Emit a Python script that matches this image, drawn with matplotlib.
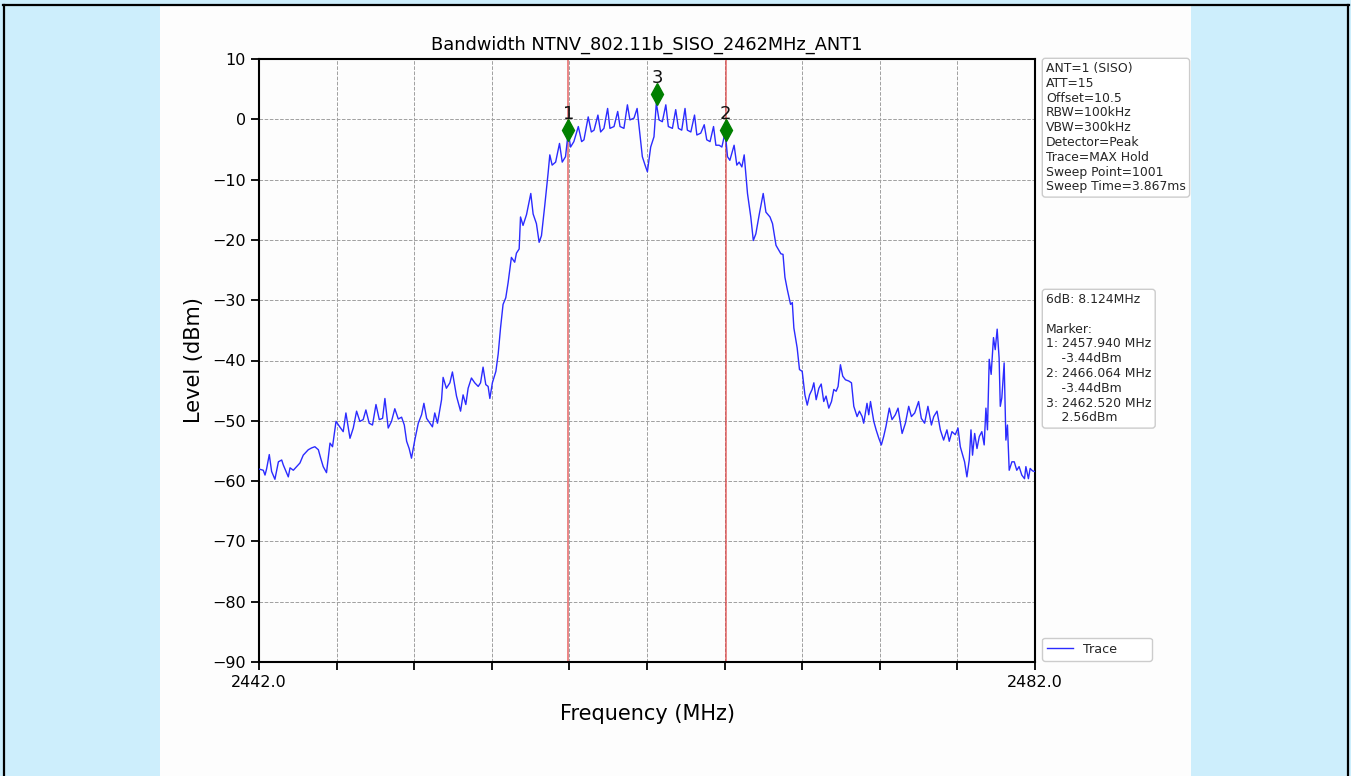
import matplotlib
matplotlib.use("Agg")
import matplotlib.pyplot as plt
from matplotlib.patches import Rectangle
from matplotlib.lines import Line2D

# ---------------- data ----------------
freq_mhz = [
    2442.00, 2442.22, 2442.31, 2442.39, 2442.53, 2442.65, 2442.82, 2443.00, 2443.17, 2443.25,
    2443.51, 2443.60, 2443.77, 2443.94, 2444.11, 2444.28, 2444.54, 2444.71, 2444.88, 2445.06,
    2445.18, 2445.31, 2445.48, 2445.66, 2445.79, 2445.97, 2446.14, 2446.34, 2446.48, 2446.69,
    2446.86, 2447.03, 2447.20, 2447.37, 2447.51, 2447.68, 2447.85, 2448.03, 2448.20, 2448.37,
    2448.49, 2448.66, 2448.83, 2449.00, 2449.18, 2449.35, 2449.49, 2449.61, 2449.74, 2449.86,
    2450.03, 2450.21, 2450.38, 2450.50, 2450.64, 2450.81, 2450.94, 2451.06, 2451.20, 2451.41,
    2451.49, 2451.66, 2451.84, 2451.97, 2452.18, 2452.39, 2452.52, 2452.66, 2452.78, 2452.95,
    2453.12, 2453.30, 2453.42, 2453.55, 2453.69, 2453.81, 2453.90, 2454.03, 2454.21, 2454.33,
    2454.45, 2454.58, 2454.72, 2454.84, 2455.01, 2455.18, 2455.27, 2455.41, 2455.48, 2455.61,
    2455.79, 2456.01, 2456.13, 2456.30, 2456.44, 2456.56, 2456.73, 2456.90, 2456.99,
    2457.11, 2457.29, 2457.49, 2457.63, 2457.80, 2457.94, 2458.06, 2458.23, 2458.46, 2458.63,
    2458.75, 2458.97, 2459.13, 2459.27, 2459.47, 2459.61, 2459.78, 2459.97, 2460.09, 2460.30,
    2460.49, 2460.61, 2460.81, 2460.99, 2461.12, 2461.33, 2461.49, 2461.59, 2461.76, 2461.90,
    2462.02, 2462.19, 2462.36, 2462.48, 2462.62, 2462.79, 2462.97, 2463.10, 2463.31, 2463.48,
    2463.62, 2463.79, 2463.96, 2464.08, 2464.26, 2464.45, 2464.57, 2464.77, 2464.95, 2465.08,
    2465.25, 2465.43, 2465.55, 2465.72, 2465.86, 2466.03, 2466.15, 2466.27, 2466.49, 2466.63,
    2466.75, 2466.89, 2467.01, 2467.18, 2467.35, 2467.48, 2467.61, 2467.79, 2467.99, 2468.13,
    2468.34, 2468.47, 2468.65, 2468.90,
    2469.01, 2469.11, 2469.23, 2469.40, 2469.49, 2469.57, 2469.74, 2469.86, 2470.00, 2470.14,
    2470.26, 2470.38, 2470.51, 2470.60, 2470.72, 2470.86, 2470.98, 2471.11, 2471.23, 2471.37,
    2471.51, 2471.63, 2471.75, 2471.85, 2471.97, 2472.09, 2472.23, 2472.40, 2472.54, 2472.66,
    2472.83, 2472.95, 2473.09, 2473.17, 2473.34, 2473.43, 2473.52, 2473.69, 2473.81, 2473.95,
    2474.08, 2474.20, 2474.32, 2474.49, 2474.63, 2474.80, 2474.94, 2475.15, 2475.32, 2475.49,
    2475.63, 2475.80, 2476.00, 2476.14, 2476.31, 2476.48, 2476.66, 2476.78, 2476.95, 2477.12,
    2477.29, 2477.46, 2477.58, 2477.72, 2477.89, 2478.03, 2478.15, 2478.27, 2478.37, 2478.49,
    2478.61, 2478.70, 2478.78, 2478.89, 2479.01, 2479.13, 2479.26, 2479.38, 2479.47, 2479.55,
    2479.64, 2479.74, 2479.86, 2479.95, 2480.05, 2480.15, 2480.21, 2480.29, 2480.41, 2480.50,
    2480.58, 2480.67, 2480.81, 2480.93, 2481.06, 2481.18, 2481.32, 2481.46, 2481.53, 2481.66,
    2481.75, 2481.87, 2481.97, 2482.00,
]
level_dbm = [
    -58.0, -58.2, -59.0, -58.0, -55.6, -58.4, -59.7, -56.8, -56.5, -57.3,
    -59.3, -57.8, -58.2, -57.6, -57.0, -55.7, -54.8, -54.5, -54.3, -54.8,
    -56.2, -57.6, -58.6, -53.7, -54.3, -50.1, -50.9, -51.8, -48.7, -52.9,
    -51.2, -48.4, -50.1, -49.8, -48.2, -50.4, -50.7, -47.3, -49.8, -49.6,
    -46.3, -51.2, -50.1, -48.0, -49.7, -49.4, -50.7, -53.4, -54.6, -56.2,
    -53.2, -50.4, -49.0, -47.1, -49.6, -50.4, -51.0, -48.7, -50.4, -46.5,
    -42.8, -44.6, -43.7, -41.9, -45.9, -48.4, -45.7, -47.3, -44.6, -42.9,
    -43.7, -44.3, -43.7, -41.1, -44.0, -44.3, -46.3, -43.7, -41.8, -38.9,
    -34.6, -30.7, -29.6, -27.1, -22.9, -23.7, -22.2, -21.5, -16.2, -17.6,
    -15.8, -12.3, -15.7, -17.3, -20.4, -19.3, -14.3, -9.0, -5.9,
    -7.6, -7.1, -4.0, -7.1, -6.2, -2.1, -4.6, -3.7, -1.2, -3.7,
    -3.4, 0.4, -2.1, -1.8, 0.7, -2.1, -1.5, 1.8, -1.5, -1.2,
    1.3, -1.2, -1.5, 2.4, -0.1, 0.2, 1.8, -1.2, -6.2, -7.6,
    -8.7, -4.6, -2.9, 2.7, -0.1, -0.4, 2.4, -1.2, -1.5, 1.6,
    -1.5, -1.8, 1.8, -1.8, -2.1, 0.7, -2.6, -2.3, -0.9, -3.4,
    -3.7, -1.2, -4.3, -4.3, -4.6, -2.1, -6.2, -6.8, -4.3, -7.6,
    -7.1, -7.9, -5.9, -12.3, -16.2, -20.1, -19.0, -15.7, -12.3, -15.4,
    -16.2, -17.3, -20.9, -22.3,
    -22.4, -26.2, -28.2, -30.7, -30.4, -34.6, -37.9, -41.5, -41.8, -45.7,
    -47.4, -45.7, -44.8, -43.7, -46.5, -44.6, -43.9, -46.8, -45.9, -47.9,
    -46.8, -44.8, -45.1, -44.3, -40.7, -42.6, -43.2, -43.4, -43.7, -47.6,
    -49.3, -48.4, -49.3, -50.4, -47.1, -49.0, -46.8, -50.1, -51.5, -52.9,
    -54.0, -52.6, -50.9, -47.9, -49.8, -49.0, -47.9, -52.1, -50.4, -47.6,
    -49.3, -48.7, -46.8, -49.6, -50.4, -47.6, -50.7, -49.3, -48.4, -51.5,
    -53.2, -51.5, -53.4, -51.8, -52.3, -51.2, -54.3, -55.7, -56.8, -59.3,
    -56.5, -51.5, -55.7, -52.1, -54.6, -52.6, -51.8, -54.0, -47.9, -51.5,
    -39.8, -42.3, -36.2, -38.2, -34.8, -39.6, -47.6, -46.2, -40.4, -53.2,
    -50.7, -58.2, -56.8, -56.8, -58.2, -57.6, -59.0, -59.6, -57.6, -59.6,
    -57.9, -58.3, -58.4, -58.4,
]

marker_ids = ["1", "2", "3"]
marker_freq = [2457.940, 2466.064, 2462.520]
marker_level_text = [-3.44, -3.44, 2.56]
marker_plot_level = [-1.8, -1.8, 4.2]
bw_lines = [2457.940, 2466.064]
bw_6db = 8.124

x_ticks = [2442, 2446, 2450, 2454, 2458, 2462, 2466, 2470, 2474, 2478, 2482]
x_tick_labels = ["2442.0", "", "", "", "", "", "", "", "", "", "2482.0"]
y_ticks = [10, 0, -10, -20, -30, -40, -50, -60, -70, -80, -90]

settings_lines = ["ANT=1 (SISO)", "ATT=15", "Offset=10.5", "RBW=100kHz", "VBW=300kHz",
                  "Detector=Peak", "Trace=MAX Hold", "Sweep Point=1001", "Sweep Time=3.867ms"]
title_text = "Bandwidth NTNV_802.11b_SISO_2462MHz_ANT1"

# ---------------- figure ----------------
W, H = 1351, 776
fig = plt.figure(figsize=(W / 100, H / 100), dpi=100, facecolor="#cdeefc")

def fx(px):
    return px / W

def fy(py):
    return 1 - py / H

# white panel
fig.patches.append(Rectangle((fx(160), 0), fx(1191) - fx(160), fy(5), transform=fig.transFigure,
                             facecolor="#fdfdfd", edgecolor="none", zorder=-5))
# black border
for xs, ys in [([fx(3), fx(1349)], [fy(4.5), fy(4.5)]),
               ([fx(3.5), fx(3.5)], [fy(4.5), 0]),
               ([fx(1348), fx(1348)], [fy(4.5), 0])]:
    fig.add_artist(Line2D(xs, ys, transform=fig.transFigure, color="black", lw=1.6, zorder=5))

ax = fig.add_axes([fx(259), fy(662), fx(1035) - fx(259), fy(59) - fy(662)])
ax.set_zorder(1)
ax.set_facecolor("#fdfdfd")

trace, = ax.plot(freq_mhz, level_dbm, color="#2b2bff", lw=1.0, label="Trace", zorder=3)

for f in bw_lines:
    ax.axvline(f, color="#e04040", alpha=0.8, lw=1.1, zorder=2)

ax.plot(marker_freq, marker_plot_level, linestyle="none", marker="d", markersize=11,
        color="green", zorder=4)
for mid, f, lv in zip(marker_ids, marker_freq, marker_plot_level):
    ax.annotate(mid, (f, lv), xytext=(0, 5), textcoords="offset points",
                ha="center", va="bottom", fontsize=13, color="#111111")

ax.set_xlim(2442, 2482)
ax.set_ylim(-90, 10)
ax.set_xticks(x_ticks)
ax.set_xticklabels(x_tick_labels)
ax.set_yticks(y_ticks)
ax.tick_params(axis="both", labelsize=11.5, length=6, width=1.3, direction="out")
ax.grid(True, color="#a0a0a0", linestyle="--", lw=0.7)
for s in ax.spines.values():
    s.set_linewidth(1.5)

ax.set_title(title_text, fontsize=12.8, pad=7)
ax.set_xlabel("Frequency (MHz)", fontsize=15, labelpad=10)
ax.set_ylabel("Level (dBm)", fontsize=15, labelpad=6)

box_style = dict(boxstyle="round,pad=0.3,rounding_size=0.25", facecolor="white", edgecolor="#cccccc", lw=1)
fig.text(fx(1046), fy(62), "\n".join(settings_lines), ha="left", va="top",
         fontsize=8.9, linespacing=1.18, color="#262626", bbox=box_style, zorder=6)

marker_lines = ["6dB: %.3fMHz" % bw_6db, "", "Marker:"]
for mid, f, lv in zip(marker_ids, marker_freq, marker_level_text):
    marker_lines.append("%s: %.3f MHz" % (mid, f))
    marker_lines.append("    %.2fdBm" % lv)
fig.text(fx(1046), fy(293), "\n".join(marker_lines), ha="left", va="top",
         fontsize=8.9, linespacing=1.18, color="#262626", bbox=box_style, zorder=6)

leg = ax.legend(handles=[trace], loc="lower left",
                bbox_to_anchor=(fx(1042), fy(661), fx(1152) - fx(1042), 0.03),
                bbox_transform=fig.transFigure, mode="expand", borderaxespad=0,
                fontsize=9.2, framealpha=1, edgecolor="#cccccc", fancybox=True)
for t in leg.get_texts():
    t.set_color("#262626")

fig.savefig("out.png", dpi=100, facecolor=fig.get_facecolor())
